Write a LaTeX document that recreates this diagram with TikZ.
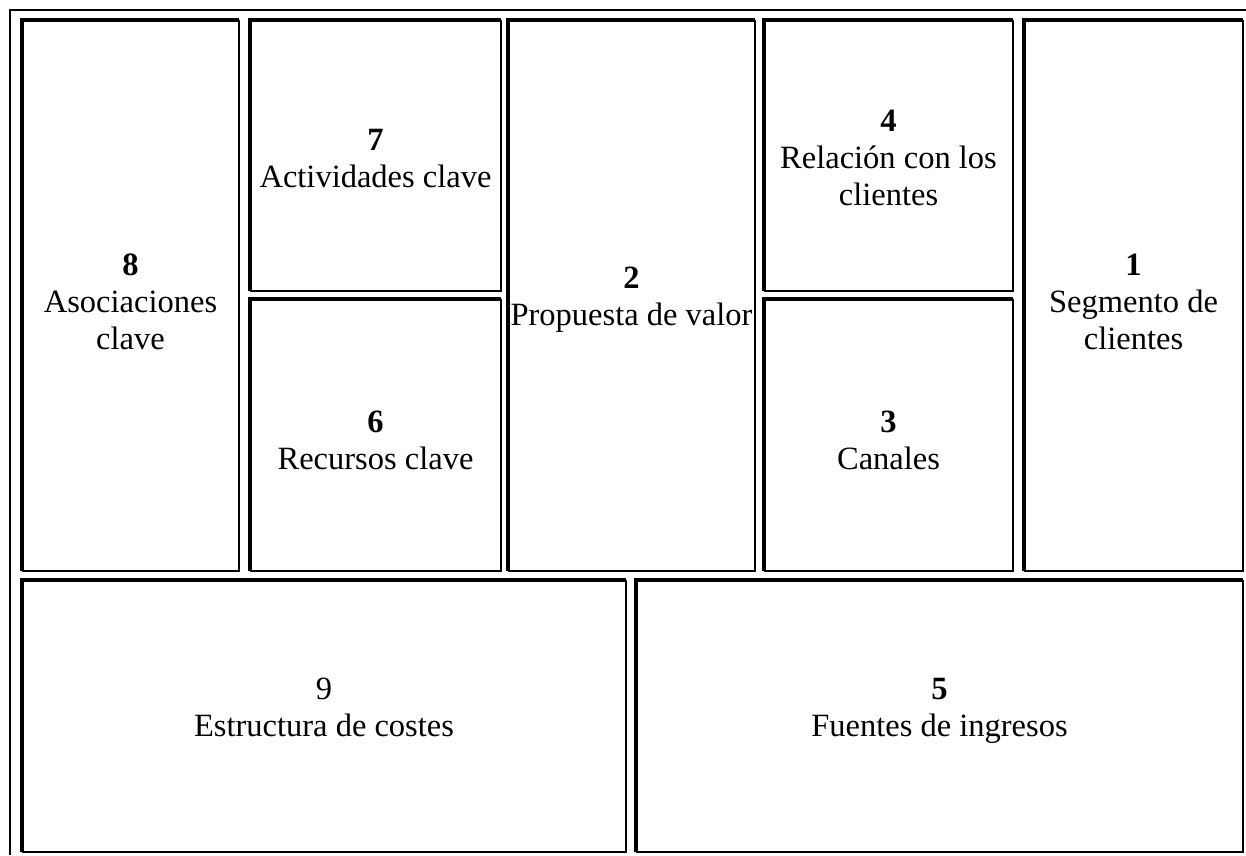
\documentclass[tikz,border=0pt]{standalone}
\usepackage{fontspec}
\setmainfont{Liberation Serif}
\usepackage{xcolor}
\usepackage{tikz}
\definecolor{ink}{HTML}{000000}
\tikzset{
  tabline/.style={line width=2pt, draw=ink},
  lineK/.style={line width=4pt, draw=ink},
  lineT/.style={line width=2pt, draw=ink},
  cell/.style={inner sep=0pt, outer sep=0pt},
  lab/.style={inner sep=0pt, align=center, text=ink,
    font=\fontsize{32.5}{37}\selectfont}
}

\begin{document}
\begin{tikzpicture}[x=1pt,y=-1pt]
  \useasboundingbox (0,0) rectangle (1246,855);

  % table frame
  \coordinate (TL) at (10,10);
  \coordinate (TR) at (1246,10);
  \coordinate (BL) at (10,855);
  \draw[tabline] (BL) -- (TL) -- (TR);

  % cells
  \node[cell, minimum width=217pt, minimum height=551pt] (asoc) at (130.5,295.5) {};
  \node[cell, minimum width=251pt, minimum height=271pt] (activ) at (375.5,155.5) {};
  \node[cell, minimum width=251pt, minimum height=272pt] (recur) at (375.5,435) {};
  \node[cell, minimum width=247pt, minimum height=551pt] (prop) at (631.5,295.5) {};
  \node[cell, minimum width=249pt, minimum height=271pt] (relac) at (888.5,155.5) {};
  \node[cell, minimum width=249pt, minimum height=272pt] (canal) at (888.5,435) {};
  \node[cell, minimum width=219pt, minimum height=551pt] (segm) at (1133.5,295.5) {};
  \node[cell, minimum width=604pt, minimum height=272pt] (coste) at (324,716) {};
  \node[cell, minimum width=607pt, minimum height=272pt] (ingre) at (939.5,716) {};

  % texts
  \node[lab, yshift=-6pt] (asoc-t) at (asoc.center) {\textbf{8}\\Asociaciones\\clave};
  \node[lab, yshift=-3pt] (activ-t) at (activ.center) {\textbf{7}\\Actividades clave};
  \node[lab, yshift=-5pt] (recur-t) at (recur.center) {\textbf{6}\\Recursos clave};
  \node[lab, yshift=-4pt] (prop-t) at (prop.center) {\textbf{2}\\Propuesta de valor};
  \node[lab, yshift=-2pt] (relac-t) at (relac.center) {\textbf{4}\\Relación con los\\clientes};
  \node[lab, yshift=-5pt] (canal-t) at (canal.center) {\textbf{3}\\Canales};
  \node[lab, yshift=-6pt] (segm-t) at (segm.center) {\textbf{1}\\Segmento de\\clientes};
  \node[lab, yshift=9pt] (coste-t) at (coste.center) {9\\Estructura de costes};
  \node[lab, yshift=5pt] (ingre-t) at (ingre.center) {\textbf{5}\\Fuentes de ingresos};

  % borders: thin right/bottom, thick left/top
  \draw[lineT] (asoc.south west) -| (asoc.north east);
  \draw[lineK] (asoc.south west) |- (asoc.north east);
  \draw[lineT] (activ.south west) -| (activ.north east);
  \draw[lineK] (activ.south west) |- (activ.north east);
  \draw[lineT] (recur.south west) -| (recur.north east);
  \draw[lineK] (recur.south west) |- (recur.north east);
  \draw[lineT] (prop.south west) -| (prop.north east);
  \draw[lineK] (prop.south west) |- (prop.north east);
  \draw[lineT] (relac.south west) -| (relac.north east);
  \draw[lineK] (relac.south west) |- (relac.north east);
  \draw[lineT] (canal.south west) -| (canal.north east);
  \draw[lineK] (canal.south west) |- (canal.north east);
  \draw[lineT] (segm.south west) -| (segm.north east);
  \draw[lineK] (segm.south west) |- (segm.north east);
  \draw[lineT] (coste.south west) -| (coste.north east);
  \draw[lineK] (coste.south west) |- (coste.north east);
  \draw[lineT] (ingre.south west) -| (ingre.north east);
  \draw[lineK] (ingre.south west) |- (ingre.north east);
\end{tikzpicture}
\end{document}
